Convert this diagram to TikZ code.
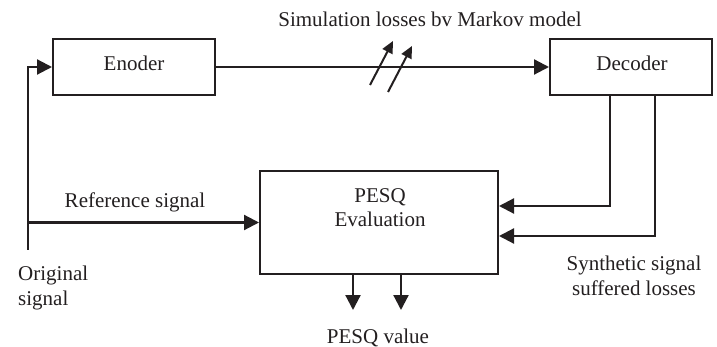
\documentclass[tikz,border=0pt]{standalone}
\usepackage{fontspec}
\setmainfont{Liberation Serif}
\usepackage{xcolor}
\usetikzlibrary{arrows.meta,positioning,calc}
\definecolor{inkgray}{HTML}{231F20}

\begin{document}
\begin{tikzpicture}[x=1pt,y=-1pt,font=\fontsize{21}{24.5}\selectfont,color=inkgray,
 blockbox/.style={draw=inkgray,line width=2pt,minimum width=162pt,minimum height=56pt,inner sep=0pt},
 txt/.style={inner sep=0pt,anchor=base,align=center},
 arr/.style={-{Triangle[length=15pt,width=15pt]},line width=2.2pt},
 lossarr/.style={-{Triangle[length=12pt,width=11pt]},line width=2pt}]
\useasboundingbox (0,0) rectangle (717,347);
\node[blockbox] (enc) at (134,67) {};
\node[txt] (enctxt) at (134,71) {Enoder};
\node[blockbox] (dec) at (631,67) {};
\node[txt] (dectxt) at (632,71) {Decoder};
\node[blockbox,minimum width=238pt,minimum height=103pt] (pesq) at (379,222.5) {};
\node[txt] (pesqtxt) at (380,227) {PESQ\\Evaluation};
\node[txt] (sim) at (430,27) {Simulation losses bv Markov model};
\node[txt] (ref) at (135,208) {Reference signal};
\node[txt,anchor=base west,align=left] (orig) at (18,305) {Original\\signal};
\node[txt] (val) at (378,343) {PESQ value};
\node[txt] (synth) at (634,295) {Synthetic signal\\suffered losses};
\coordinate (origend) at (28,250);
\coordinate (loss1a) at (370,85); \coordinate (loss1b) at (393,41);
\coordinate (loss2a) at (388,92); \coordinate (loss2b) at (412,46);
\coordinate (out1) at (353,310); \coordinate (out2) at (401,310);
\draw[arr] (origend) |- (enc.west); \draw[arr] (origend |- pesq.west) -- (pesq.west); \draw[arr] (enc.east) -- (dec.west);
\draw[lossarr] (loss1a) -- (loss1b); \draw[lossarr] (loss2a) -- (loss2b);
\draw[arr] ([xshift=-21pt]dec.south) |- ([yshift=16.5pt]pesq.east); \draw[arr] ([xshift=24pt]dec.south) |- ([yshift=-13.5pt]pesq.east);
\draw[arr] (out1 |- pesq.south) -- (out1); \draw[arr] (out2 |- pesq.south) -- (out2);
\end{tikzpicture}
\end{document}
